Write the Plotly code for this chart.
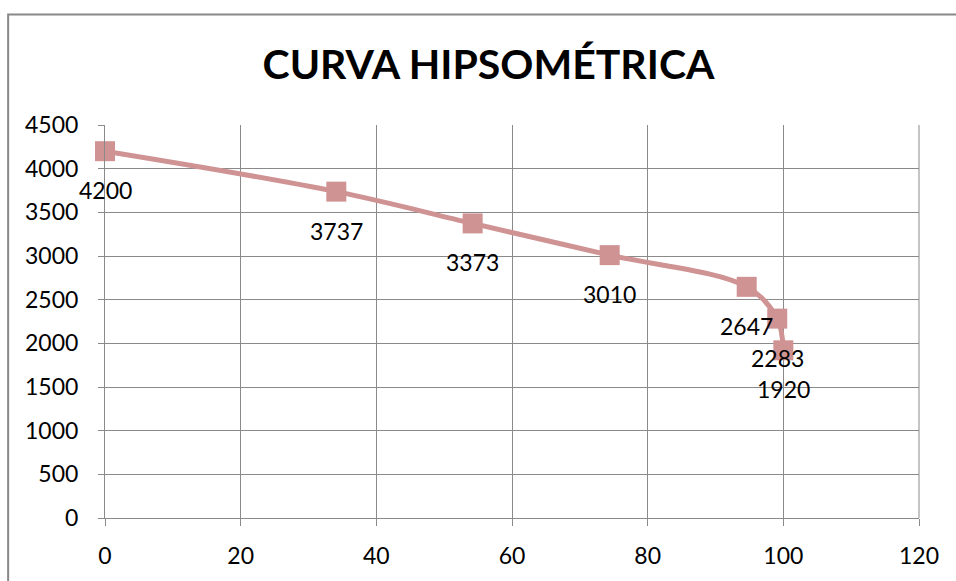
import plotly.graph_objects as go

area_pct = [0, 34.1, 54.2, 74.4, 94.6, 99.1, 100]
elevation = [4200, 3737, 3373, 3010, 2647, 2283, 1920]
x_ticks = [0, 20, 40, 60, 80, 100, 120]
y_ticks = [0, 500, 1000, 1500, 2000, 2500, 3000, 3500, 4000, 4500]

FONT = "Lato"
color = "#D09394"

fig = go.Figure()
fig.add_trace(go.Scatter(
    x=area_pct, y=elevation, mode="lines+markers",
    line=dict(color=color, width=5, shape="spline", smoothing=1),
    marker=dict(symbol="square", size=20, color=color),
    hoverinfo="x+y", showlegend=False, cliponaxis=False,
))

for xv, yv in zip(area_pct, elevation):
    fig.add_annotation(x=xv, y=yv, text=str(yv), showarrow=False,
                       yshift=-39, font=dict(family=FONT, size=23, color="black"))

fig.add_shape(type="path", xref="paper", yref="paper",
              path="M -0.119,-0.2 L -0.119,1.2814 L 1.05,1.2814",
              line=dict(color="#888888", width=2))

fig.update_layout(
    width=956, height=581,
    margin=dict(l=105, r=37, t=125, b=58),
    paper_bgcolor="white", plot_bgcolor="white",
    title=dict(text="<b>CURVA HIPSOMÉTRICA</b>", x=488.5/956, xanchor="center",
               y=1 - 65/581, yanchor="middle",
               font=dict(family=FONT, size=41, color="black")),
    font=dict(family=FONT, size=23, color="black"),
)
fig.update_xaxes(range=[0, 120], tickvals=x_ticks, showgrid=True, gridcolor="#8a8a8a",
                 gridwidth=1, showline=True, linecolor="#8a8a8a", linewidth=1,
                 ticks="outside", ticklen=7, tickcolor="#8a8a8a", zeroline=False,
                 mirror=False, ticklabelstandoff=10)
fig.update_yaxes(range=[0, 4500], tickvals=y_ticks, showgrid=True, gridcolor="#8a8a8a",
                 gridwidth=1, showline=True, linecolor="#8a8a8a", linewidth=1,
                 ticks="outside", ticklen=6, tickcolor="#8a8a8a", zeroline=False,
                 ticklabelstandoff=15)
fig.add_shape(type="line", xref="paper", yref="paper", x0=1, x1=1, y0=0, y1=1,
              line=dict(color="#8a8a8a", width=1))

fig.write_html("out.html", config={"displayModeBar": False},
               post_script="document.body.style.margin='0';")
